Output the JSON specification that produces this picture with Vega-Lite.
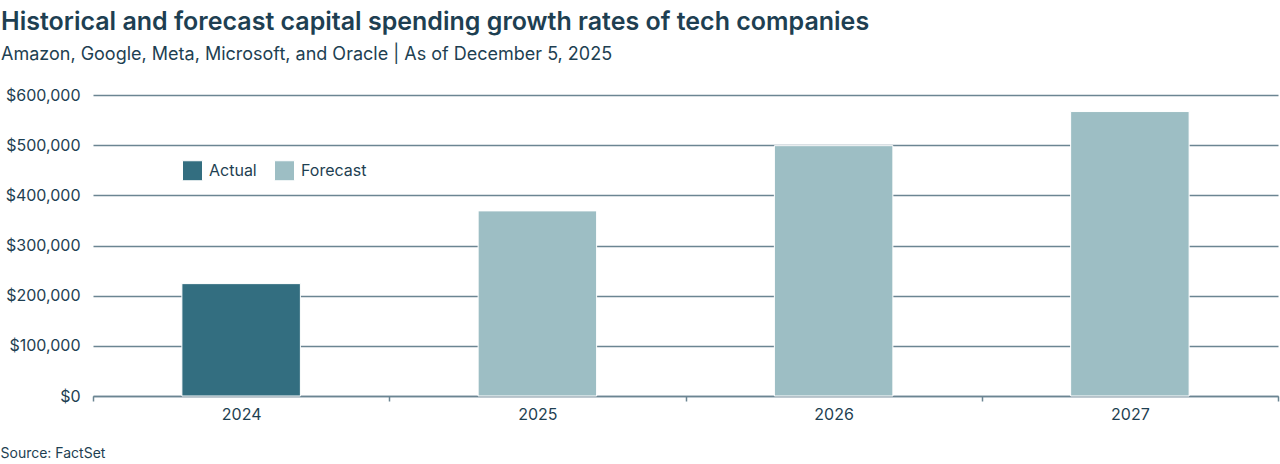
{
  "$schema": "https://vega.github.io/schema/vega-lite/v6.json",
  "autosize": "none",
  "width": 1185,
  "height": 301,
  "padding": {"left": 93, "top": 95, "right": 2, "bottom": 68},
  "background": "white",
  "title": {
    "text": "Historical and forecast capital spending growth rates of tech companies",
    "subtitle": "Amazon, Google, Meta, Microsoft, and Oracle | As of December 5, 2025",
    "anchor": "start",
    "frame": "group",
    "dx": -92,
    "offset": 23,
    "font": "Inter",
    "fontSize": 25,
    "fontWeight": 600,
    "color": "#1e3f52",
    "subtitleFont": "Inter",
    "subtitleFontSize": 18,
    "subtitleColor": "#1e3f52",
    "subtitlePadding": 11
  },
  "data": {
    "values": [
      {"year": "2024", "capex": 224000, "type": "Actual"},
      {"year": "2025", "capex": 369000, "type": "Forecast"},
      {"year": "2026", "capex": 499000, "type": "Forecast"},
      {"year": "2027", "capex": 567000, "type": "Forecast"}
    ]
  },
  "mark": {"type": "bar", "width": {"band": 0.4}, "stroke": "white", "strokeWidth": 1},
  "encoding": {
    "x": {
      "field": "year",
      "type": "ordinal",
      "scale": {"paddingInner": 0, "paddingOuter": 0},
      "axis": {
        "title": "Source: FactSet",
        "titleAnchor": "start",
        "titleAlign": "left",
        "titleX": -93,
        "titleY": 50,
        "titleFont": "Inter",
        "titleFontSize": 14,
        "titleFontWeight": "normal",
        "titleColor": "#1e3f52",
        "labelAngle": 0,
        "labelFont": "Inter",
        "labelFontSize": 16,
        "labelColor": "#1e3f52",
        "labelPadding": 5,
        "tickBand": "extent",
        "tickColor": "#6b8592",
        "tickSize": 5,
        "tickWidth": 1.5,
        "domainColor": "#6b8592",
        "domainWidth": 1.5,
        "grid": false
      }
    },
    "y": {
      "field": "capex",
      "type": "quantitative",
      "scale": {"domain": [0, 600000]},
      "axis": {
        "title": null,
        "values": [0, 100000, 200000, 300000, 400000, 500000, 600000],
        "format": "$,.0f",
        "labelFont": "Inter",
        "labelFontSize": 16,
        "labelColor": "#1e3f52",
        "labelPadding": 13,
        "domain": false,
        "ticks": false,
        "grid": true,
        "gridColor": "#6b8592",
        "gridWidth": 1.5,
        "gridOpacity": 1
      }
    },
    "color": {
      "field": "type",
      "type": "nominal",
      "scale": {"domain": ["Actual", "Forecast"], "range": ["#336e80", "#9dbec4"]},
      "legend": {
        "title": null,
        "orient": "none",
        "legendX": 89,
        "legendY": 65,
        "direction": "horizontal",
        "symbolType": "square",
        "symbolSize": 400,
        "symbolStrokeColor": "white",
        "symbolStrokeWidth": 1,
        "labelFont": "Inter",
        "labelFontSize": 16,
        "labelColor": "#1e3f52",
        "labelOffset": 6,
        "columnPadding": 15
      }
    }
  },
  "config": {"view": {"stroke": null}}
}
